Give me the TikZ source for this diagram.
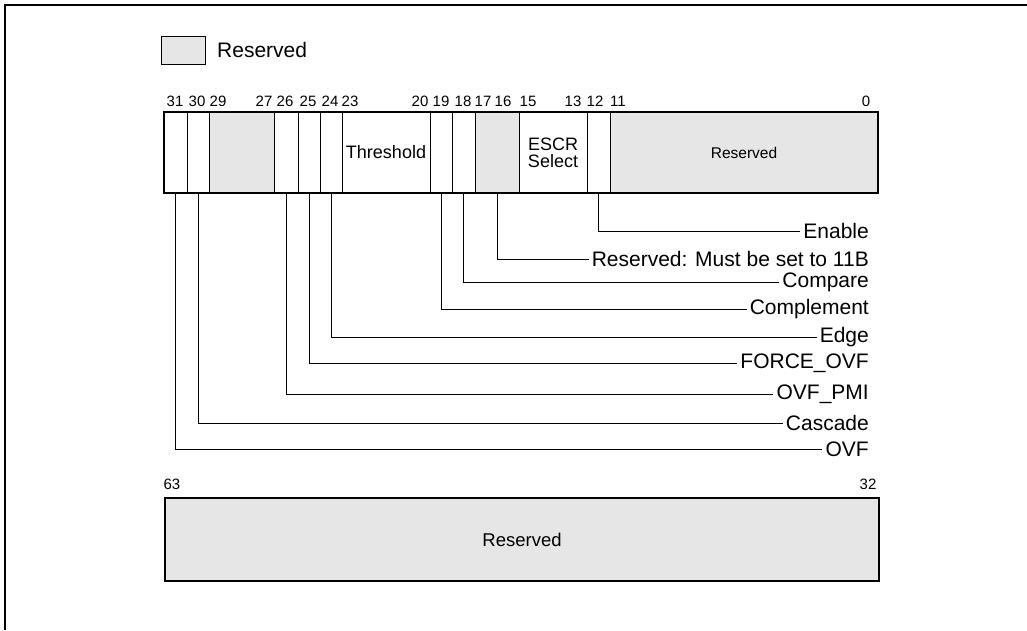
\documentclass[tikz,border=0pt]{standalone}
\usepackage{fontspec}
\setmainfont{Liberation Sans}
\definecolor{resgray}{RGB}{230,230,230}
\tikzset{
  field/.style={draw, line width=1pt, inner sep=0pt, outer sep=0pt, minimum height=81pt, anchor=north west},
  resfield/.style={field, fill=resgray},
  bitno/.style={font=\fontsize{15}{17}\selectfont, inner sep=0pt},
  lbl/.style={font=\fontsize{21}{24}\selectfont, anchor=east, inner sep=3pt},
  leader/.style={line width=1pt},
}
\begin{document}
\begin{tikzpicture}[x=1pt,y=-1pt]
\useasboundingbox (0,0) rectangle (1027,630);
\draw[line width=2pt] (5,630) -- (5,5) -- (1027,5);

% key
\node[draw, line width=1pt, fill=resgray, minimum width=44pt, minimum height=28pt, inner sep=0pt, anchor=north west] (key) at (161,36) {};
\node[font=\fontsize{21}{24}\selectfont, anchor=west, inner sep=0pt] (keytext) at (217,50) {Reserved};

% bit numbers, low half
\node[bitno] (n31) at (175,101) {31};
\node[bitno] (n30) at (197,101) {30};
\node[bitno] (n29) at (218,101) {29};
\node[bitno] (n27) at (264,101) {27};
\node[bitno] (n26) at (285,101) {26};
\node[bitno] (n25) at (308,101) {25};
\node[bitno] (n24) at (330,101) {24};
\node[bitno] (n23) at (350,101) {23};
\node[bitno] (n20) at (420,101) {20};
\node[bitno] (n19) at (441,101) {19};
\node[bitno] (n18) at (463,101) {18};
\node[bitno] (n17) at (483,101) {17};
\node[bitno] (n16) at (503,101) {16};
\node[bitno] (n15) at (528,101) {15};
\node[bitno] (n13) at (573,101) {13};
\node[bitno] (n12) at (595,101) {12};
\node[bitno] (n11) at (618,101) {11};
\node[bitno] (n0) at (866,101) {0};

% fields
\node[field, minimum width=23pt] (f31) at (164,112) {};
\node[field, minimum width=22pt] (f30) at (187,112) {};
\node[resfield, minimum width=65pt] (f29) at (209,112) {};
\node[field, minimum width=24pt] (f26) at (274,112) {};
\node[field, minimum width=22pt] (f25) at (298,112) {};
\node[field, minimum width=22pt] (f24) at (320,112) {};
\node[field, minimum width=88pt, font=\fontsize{18}{20}\selectfont] (f23) at (342,112) {Threshold};
\node[field, minimum width=22pt] (f19) at (430,112) {};
\node[field, minimum width=23pt] (f18) at (452,112) {};
\node[resfield, minimum width=44pt] (f17) at (475,112) {};
\node[field, minimum width=68pt, align=center, font=\fontsize{18}{17}\selectfont] (f15) at (519,112) {ESCR\\Select};
\node[field, minimum width=23pt] (f12) at (587,112) {};
\node[resfield, minimum width=268pt, font=\fontsize{15.5}{18}\selectfont] (f11) at (610,112) {Reserved};
\draw[line width=2pt] (f31.north west) rectangle (f11.south east);

% labels
\node[lbl] (enable) at (872,231) {Enable};
\node[lbl] (mustset) at (872,259) {Reserved: Must be set to 11B};
\node[lbl] (compare) at (872,282) {Compare};
\node[lbl] (complement) at (872,309) {Complement};
\node[lbl] (edgebit) at (872,337) {Edge};
\node[lbl] (forceovf) at (872,363) {FORCE\_OVF};
\node[lbl] (ovfpmi) at (872,394) {OVF\_PMI};
\node[lbl] (cascade) at (872,423) {Cascade};
\node[lbl] (ovf) at (872,449) {OVF};

\draw[leader] (f12.south) |- (enable.west);
\draw[leader] (f17.south) |- (mustset.west);
\draw[leader] (f18.south) |- (compare.west);
\draw[leader] (f19.south) |- (complement.west);
\draw[leader] (f24.south) |- (edgebit.west);
\draw[leader] (f25.south) |- (forceovf.west);
\draw[leader] (f26.south) |- (ovfpmi.west);
\draw[leader] (f30.south) |- (cascade.west);
\draw[leader] (f31.south) |- (ovf.west);

% high half
\node[bitno] (n63) at (172,484) {63};
\node[bitno] (n32) at (868,484) {32};
\node[draw, line width=2pt, fill=resgray, minimum width=714pt, minimum height=83pt, inner sep=0pt, anchor=north west, font=\fontsize{18.5}{22}\selectfont] (upper) at (164,497) {Reserved};
\end{tikzpicture}
\end{document}
